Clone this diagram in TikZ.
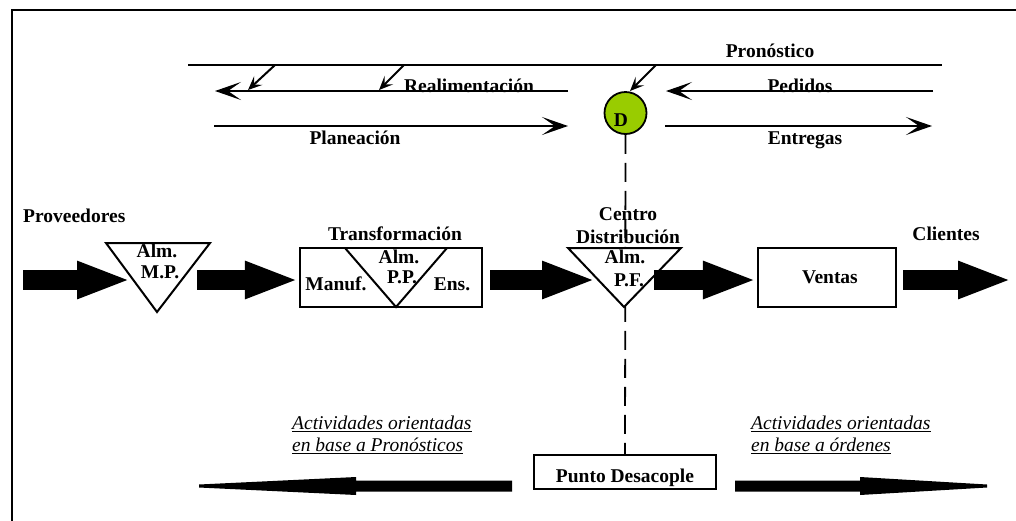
\documentclass[tikz,border=0pt]{standalone}
\usepackage{fontspec}
\setmainfont{Liberation Serif}
\usetikzlibrary{arrows.meta,calc}
\definecolor{dgreen}{HTML}{99CC00}

\begin{document}
\begin{tikzpicture}[x=1pt,y=-1pt,
  lbl/.style={font=\fontsize{19.5}{22}\selectfont\bfseries, inner sep=0pt, anchor=base},
  itl/.style={font=\fontsize{19.5}{22}\selectfont\itshape, inner sep=0pt, anchor=base west},
  thinline/.style={line width=2pt},
  flow/.style={thinline, -{Stealth[length=26pt,width=18pt,inset=13pt]}},
  feed/.style={thinline, -{Stealth[length=14pt,width=12pt,inset=6pt]}},
  fat/.style={line width=20pt, -{Triangle[length=54pt,width=34pt]}},
  box/.style={draw, line width=2.2pt, inner sep=0pt, fill=white,
    font=\fontsize{19.5}{22}\selectfont\bfseries, text depth=0pt},
  tri/.style={draw, line width=2pt, fill=white, line join=miter},
  uline/.style={line width=0.9pt},
]
\useasboundingbox (0,0) rectangle (1016,520);

% outer frame
\draw[line width=1.6pt] (12,530) -- (12,10) -- (1030,10);

% information flows
\coordinate (pL) at (188,65);
\coordinate (pR) at (942,65);
\draw[thinline] (pL) -- (pR);
\node[lbl] (pron) at (770,57) {Pronóstico};

\coordinate (rS) at (568,91);
\coordinate (rE) at (215,91);
\node[lbl] (real) at (469,92) {Realimentación};
\draw[flow] (rS) -- (rE);

\coordinate (f1s) at (275,65);
\coordinate (f1e) at (248,90);
\coordinate (f2s) at (404,65);
\coordinate (f2e) at (379,90);
\draw[feed] (f1s) -- (f1e);
\draw[feed] (f2s) -- (f2e);

\coordinate (peS) at (933,91);
\coordinate (peE) at (666,91);
\node[lbl] (ped) at (800,92) {Pedidos};
\draw[flow] (peS) -- (peE);

\coordinate (plS) at (214,126);
\coordinate (plE) at (568,126);
\draw[flow] (plS) -- (plE);
\node[lbl] (plan) at (355,144) {Planeación};

\coordinate (enS) at (665,126);
\coordinate (enE) at (932,126);
\draw[flow] (enS) -- (enE);
\node[lbl] (ent) at (805,144) {Entregas};

% decoupling point marker
\node[circle, draw, line width=1.8pt, fill=dgreen, minimum size=42pt, inner sep=0pt] (dp) at (625.5,113) {};
\node[lbl] (dlab) at (621,126) {D};
\coordinate (f3s) at (656,65);
\coordinate (f3e) at (630,91);
\draw[feed] (f3s) -- (f3e);

% decoupling box and dashed link
\node[box, minimum width=182pt, minimum height=34pt, text height=20pt] (pd) at (625,472) {Punto Desacople};
\draw[line width=1.8pt, dash pattern=on 19pt off 9pt] (dp.south) -- (pd.north);

% physical flow: storages and stages
\coordinate (mpA) at (106,243);
\coordinate (mpB) at (210,243);
\coordinate (mpC) at (157,312);
\draw[tri] (mpA) -- (mpB) -- (mpC) -- cycle;

\node[draw, line width=2.2pt, fill=white, minimum width=182pt, minimum height=59pt, inner sep=0pt] (tr) at (391,277.5) {};
\coordinate (ppA) at (345,248);
\coordinate (ppB) at (447,248);
\coordinate (ppC) at (396,307);
\draw[line width=2pt, line join=miter] (ppA) -- (ppC) -- (ppB);

\coordinate (pfA) at (568,248);
\coordinate (pfB) at (681,248);
\coordinate (pfC) at (624,307);
\draw[tri] (pfA) -- (pfB) -- (pfC) -- cycle;

\node[box, minimum width=138pt, minimum height=59pt, text height=11pt] (ven) at (827,277.5) {\hspace*{6pt}Ventas};

% thick material arrows
\coordinate (a1s) at (23,280);
\coordinate (a1e) at (131,280);
\coordinate (a2s) at (197,280);
\coordinate (a3s) at (490,280);
\coordinate (a3e) at (596,280);
\coordinate (a4s) at (654,280);
\coordinate (a5s) at (903,280);
\coordinate (a5e) at (1012,280);
\draw[fat] (a1s) -- (a1e);
\draw[fat] (a2s) -- (tr.west |- a2s);
\draw[fat] (a3s) -- (a3e);
\draw[fat] (a4s) -- (ven.west |- a4s);
\draw[fat] (a5s) -- (a5e);

% labels of the physical flow
\node[lbl, anchor=base west] (prov) at (23,222) {Proveedores};
\node[lbl] (alm1) at (157,257) {Alm.};
\node[lbl] (mp) at (160,278) {M.P.};
\node[lbl] (trl) at (395,240) {Transformación};
\node[lbl] (alm2) at (399,263) {Alm.};
\node[lbl] (pp) at (402,283) {P.P.};
\node[lbl] (man) at (336,290) {Manuf.};
\node[lbl] (ens) at (452,290) {Ens.};
\node[lbl] (cen) at (628,220) {Centro};
\node[lbl] (dis) at (628,243) {Distribución};
\node[lbl] (alm3) at (625,263) {Alm.};
\node[lbl] (pf) at (629,286) {P.F.};
\node[lbl] (cli) at (946,240) {Clientes};

% orientation of activities
\node[itl] (t1) at (292,429) {Actividades orientadas};
\node[itl] (t2) at (292,451) {en base a Pronósticos};
\node[itl] (t3) at (751,429) {Actividades orientadas};
\node[itl] (t4) at (751,451) {en base a órdenes};
\foreach \t in {t1,t2,t3,t4}
  \draw[uline] ([yshift=-2.5pt]\t.base west) -- ([yshift=-2.5pt]\t.base east);

% long tapered arrows on both sides of the decoupling point
\coordinate (bl) at (512,486);
\coordinate (blE) at (199,486);
\coordinate (br) at (735,486);
\coordinate (brE) at (987,486);
\fill ($(bl)+(0,-5.5)$) -- ($(bl)+(0,5.5)$) -- ($(blE)+(157,5.5)$) -- ($(blE)+(157,9)$)
  -- ($(blE)+(0,1.5)$) -- ($(blE)+(0,-1.5)$) -- ($(blE)+(157,-9)$) -- ($(blE)+(157,-5.5)$) -- cycle;
\fill ($(br)+(0,-5.5)$) -- ($(br)+(0,5.5)$) -- ($(brE)+(-127,5.5)$) -- ($(brE)+(-127,9)$)
  -- ($(brE)+(0,1.5)$) -- ($(brE)+(0,-1.5)$) -- ($(brE)+(-127,-9)$) -- ($(brE)+(-127,-5.5)$) -- cycle;
\end{tikzpicture}
\end{document}
